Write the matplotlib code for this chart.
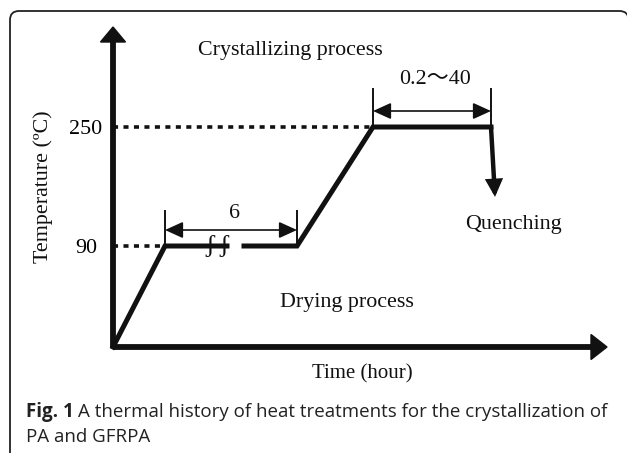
import numpy as np
import matplotlib
matplotlib.use("Agg")
import matplotlib.pyplot as plt
from matplotlib.patches import PathPatch, Polygon
from matplotlib.path import Path

# ---------------- data (schematic) ----------------
temp_levels = [90, 250]                 # labelled temperatures (°C)
temp_labels = ["90", "250"]
# heating profile: time positions (schematic units) and temperatures
time_pts = [0, 52, 184, 260, 378]
temp_pts = [0, 90, 90, 250, 250]
break_gap = [114, 131]                  # broken segment on the 90 °C plateau
quench_time = [378, 382]
quench_temp = [250, 156]
dim_drying = [52, 184]                  # "6"
dim_cryst = [260, 378]                  # "0.2~40"
dim_labels = ["6", "0.2\uff5e40"]

# schematic (non-linear) temperature axis
T_knots = [0, 90, 250, 300]
H_knots = [0, 101, 220, 320]
fwd = lambda T: np.interp(T, T_knots, H_knots)
inv = lambda h: np.interp(h, H_knots, T_knots)

W, H = 627, 453
fig = plt.figure(figsize=(W / 100, H / 100), dpi=100)

# decoration layer (frame, caption)
deco = fig.add_axes([0, 0, 1, 1])
deco.set_xlim(0, W)
deco.set_ylim(H, 0)
deco.axis("off")
fl, ft, fr, r = 10, 11, 628.5, 9
verts = [(fl, H + 20), (fl, ft + r), (fl, ft), (fl + r, ft), (fr - r, ft),
         (fr, ft), (fr, ft + r), (fr, H + 20)]
codes = [Path.MOVETO, Path.LINETO, Path.CURVE3, Path.CURVE3, Path.LINETO,
         Path.CURVE3, Path.CURVE3, Path.LINETO]
deco.add_patch(PathPatch(Path(verts, codes), fc="none", ec="#222222", lw=1.3))

serif = ["Liberation Serif", "Noto Sans CJK JP", "DejaVu Serif"]
sans = ["Open Sans", "DejaVu Sans"]
fs = 15.8

# main schematic axes: origin at (113,347), arrow tips at x=607 / y=27
x0, y0, x1, y1 = 113, 347, 607, 27
ax = fig.add_axes([x0 / W, (H - y0) / H, (x1 - x0) / W, (y0 - y1) / H])
ax.set_yscale("function", functions=(fwd, inv))
ax.set_xlim(0, x1 - x0)
ax.set_ylim(0, 300)
ax.patch.set_alpha(0)
for s in ax.spines.values():
    s.set_visible(False)
ax.set_xticks([])
ax.set_yticks(temp_levels)
ax.set_yticklabels(temp_labels, fontsize=fs, family=serif, ha="center")
ax.tick_params(axis="y", length=0, pad=19.5)

k = "#111111"
# axis arrows (in axes fraction)
ax.plot([0, 0], [0, 0.96], transform=ax.transAxes, color=k, lw=4.2,
        solid_capstyle="butt", clip_on=False)
ax.plot([0, 0.97], [0, 0], transform=ax.transAxes, color=k, lw=4.2,
        solid_capstyle="butt", clip_on=False)
hw_x = 12.5 / (x1 - x0)
hh_y = 15 / (y0 - y1)
ax.add_patch(Polygon([[0, 1], [-hw_x, 1 - hh_y], [hw_x, 1 - hh_y]],
                     closed=True, transform=ax.transAxes, color=k, clip_on=False))
hl_x = 16 / (x1 - x0)
hw_y = 12.5 / (y0 - y1)
ax.add_patch(Polygon([[1, 0], [1 - hl_x, hw_y], [1 - hl_x, -hw_y]],
                     closed=True, transform=ax.transAxes, color=k, clip_on=False))

# dotted guides
for t_end, T in [(time_pts[1], temp_levels[0]), (time_pts[3], temp_levels[1])]:
    ax.plot([0, t_end], [T, T], color=k, lw=2.6, dashes=(1.4, 1.5),
            dash_capstyle="butt", clip_on=False)

# heating profile (with break on drying plateau)
lw_p = 3.6
ax.plot(time_pts[:2] + [break_gap[0]], temp_pts[:2] + [temp_pts[2]],
        color=k, lw=lw_p, solid_joinstyle="miter", clip_on=False)
ax.plot([break_gap[1]] + time_pts[2:], [temp_pts[2]] + temp_pts[2:],
        color=k, lw=lw_p, solid_joinstyle="miter", clip_on=False)
ax.annotate("", xy=(quench_time[1], quench_temp[1]),
            xytext=(quench_time[0], quench_temp[0]),
            arrowprops=dict(arrowstyle="-|>,head_length=0.8,head_width=0.4",
                            lw=3.2, color=k, shrinkA=0, shrinkB=0,
                            joinstyle="miter"))

# break marks
for t in [97, 111]:
    ax.text(t, temp_levels[0], "\u0283", fontsize=19, family=serif,
            ha="center", va="center", color=k)

# dimension arrows
def dim(xs, T_base, h_top, h_arrow, label, h_label):
    hb = fwd(T_base)
    for xx in xs:
        ax.plot([xx, xx], [inv(hb), inv(hb + h_top)], color=k, lw=1.4,
                clip_on=False)
    ax.annotate("", xy=(xs[0], inv(hb + h_arrow)), xytext=(xs[1], inv(hb + h_arrow)),
                arrowprops=dict(arrowstyle="<|-|>,head_length=1.1,head_width=0.5",
                                lw=1.2, color=k, shrinkA=0, shrinkB=0))
    ax.text((xs[0] + xs[1]) / 2 + 3, inv(hb + h_label), label, fontsize=fs,
            family=serif, ha="center", va="center", color=k)

dim(dim_drying, temp_levels[0], 35, 16, dim_labels[0], 33)
dim(dim_cryst, temp_levels[1], 38, 16, dim_labels[1], 48)

# texts
deco.text(290, 50, "Crystallizing process", fontsize=fs, family=serif,
          ha="center", va="center", color=k)
deco.text(513, 224, "Quenching", fontsize=fs, family=serif,
          ha="center", va="center", color=k)
deco.text(347, 302, "Drying process", fontsize=fs, family=serif,
          ha="center", va="center", color=k)
deco.text(362, 374, "Time (hour)", fontsize=15, family=serif,
          ha="center", va="center", color=k)
deco.text(43, 187, "Temperature (ºC)", fontsize=fs, family=serif,
          ha="center", va="center", rotation=90, color=k)

# caption
cfs = 13.5
t1 = deco.text(26, 412, "Fig. 1", fontsize=cfs, family=sans, weight="bold",
               ha="left", va="center", color="#222222")
fig.canvas.draw()
bb = t1.get_window_extent()
x_after = bb.x1 + 4
deco.text(x_after, 412, "A thermal history of heat treatments for the crystallization of",
          fontsize=cfs, family=sans, ha="left", va="center", color="#222222")
deco.text(26, 437, "PA and GFRPA", fontsize=cfs, family=sans, ha="left",
          va="center", color="#222222")

fig.savefig("out.png", dpi=100)
